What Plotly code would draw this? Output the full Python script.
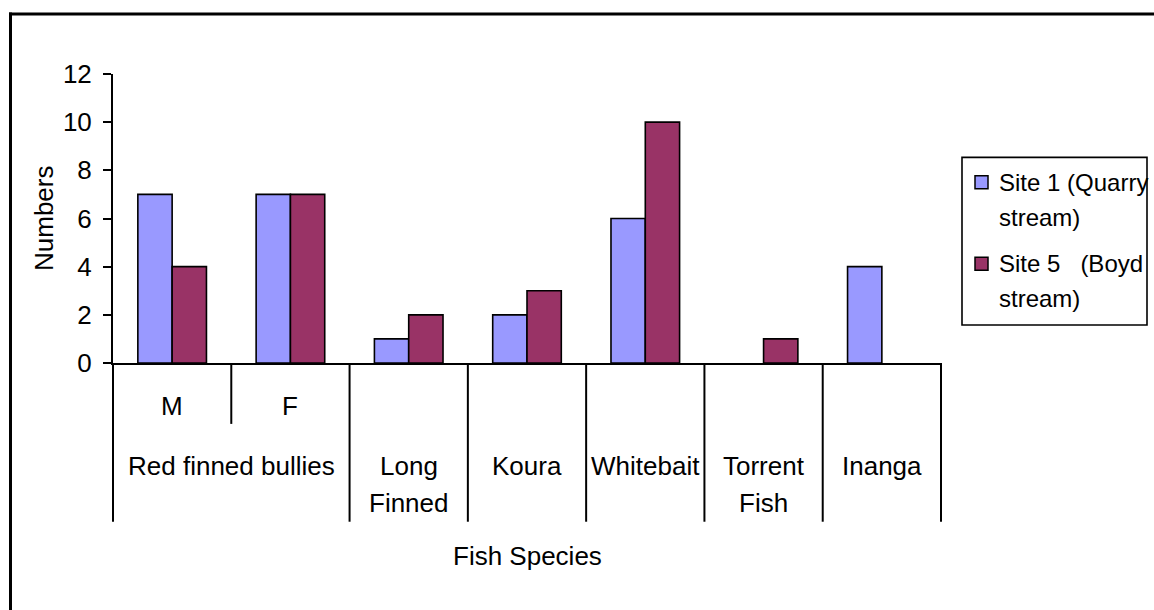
import plotly.graph_objects as go

# ---- data -------------------------------------------------------------
categories = ["M", "F", "Long Finned", "Koura", "Whitebait", "Torrent Fish", "Inanga"]
site1 = [7, 7, 1, 2, 6, None, 4]
site5 = [4, 7, 2, 3, 10, 1, None]
series_names = ["Site 1 (Quarry\nstream)", "Site 5\u00a0\u00a0\u00a0(Boyd\nstream)"]
y_ticks = [0, 2, 4, 6, 8, 10, 12]

sex_labels = ["M", "F"]
species_labels = ["Red finned bullies", "Long\nFinned", "Koura", "Whitebait", "Torrent\nFish", "Inanga"]
species_span = [2, 1, 1, 1, 1, 1]

# ---- styling ----------------------------------------------------------
FONT = "Liberation Sans, Arial, sans-serif"
COLORS = ["#9999FF", "#993366"]
W, H = 1154, 610
L, R, T, B = 113, 941, 73.5, 363     # plot area in page pixels
LABEL_SIZE = 26


def px(x):
    return (x - L) / (R - L)


def py(y):
    return (B - y) / (B - T)


fig = go.Figure()
for name, vals, col in zip(series_names, [site1, site5], COLORS):
    fig.add_trace(go.Bar(
        x=categories, y=vals, name=name.replace("\n", " "),
        marker=dict(color=col, line=dict(color="black", width=1.6)),
        showlegend=False,
    ))

shapes = []
annotations = []


def add_lines(text, x, y_first, size, spacing, xanchor="center"):
    for i, line in enumerate(text.split("\n")):
        annotations.append(dict(
            x=x, y=py(y_first + i * spacing), xref="paper", yref="paper",
            text=line, showarrow=False, xanchor=xanchor, yanchor="middle",
            font=dict(family=FONT, size=size, color="black"),
        ))


n = len(categories)
# group dividers below the category axis
edges = [0]
for s in species_span:
    edges.append(edges[-1] + s)
for k in edges:
    shapes.append(dict(type="line", xref="paper", yref="paper",
                       x0=k / n, x1=k / n, y0=0, y1=py(522),
                       line=dict(color="black", width=2)))
# divider between the M and F sub-categories
shapes.append(dict(type="line", xref="paper", yref="paper",
                   x0=1 / n, x1=1 / n, y0=0, y1=py(424),
                   line=dict(color="black", width=2)))

# sub-category labels
for i, lab in enumerate(sex_labels):
    add_lines(lab, (i + 0.5) / n, 406.5, LABEL_SIZE, 37)
# species labels
for lab, a, b in zip(species_labels, edges[:-1], edges[1:]):
    add_lines(lab, (a + b) / 2 / n, 466, LABEL_SIZE, 37)

# axis titles
add_lines("Fish Species", 0.5, 556, LABEL_SIZE, 37)
annotations.append(dict(
    x=px(43.5), y=0.5, xref="paper", yref="paper", text="Numbers",
    showarrow=False, textangle=-90, xanchor="center", yanchor="middle",
    font=dict(family=FONT, size=LABEL_SIZE, color="black"),
))

# legend box
shapes.append(dict(type="rect", xref="paper", yref="paper",
                   x0=px(962), x1=px(1147), y0=py(325), y1=py(157),
                   line=dict(color="black", width=1.6), fillcolor="white"))
for name, col, yc in zip(series_names, COLORS, [182, 263.5]):
    shapes.append(dict(type="rect", xref="paper", yref="paper",
                       x0=px(975), x1=px(988), y0=py(yc + 6.5), y1=py(yc - 6.5),
                       line=dict(color="black", width=1.5), fillcolor=col))
    add_lines(name, px(997), yc, 24, 35, xanchor="left")

# outer frame
shapes.append(dict(type="line", xref="paper", yref="paper",
                   x0=px(9), x1=px(1160), y0=py(13.5), y1=py(13.5),
                   line=dict(color="black", width=3)))
shapes.append(dict(type="line", xref="paper", yref="paper",
                   x0=px(10.5), x1=px(10.5), y0=py(12), y1=py(615),
                   line=dict(color="black", width=3)))

fig.update_layout(
    width=W, height=H,
    margin=dict(l=L, r=W - R, t=T, b=H - B, pad=0, autoexpand=False),
    paper_bgcolor="white", plot_bgcolor="white",
    barmode="group", bargap=0.42, bargroupgap=0,
    font=dict(family=FONT, size=LABEL_SIZE, color="black"),
    shapes=shapes, annotations=annotations,
    xaxis=dict(type="category", categoryorder="array", categoryarray=categories,
               range=[-0.5, n - 0.5], showticklabels=False, ticks="",
               showline=True, linecolor="black", linewidth=2,
               showgrid=False, zeroline=False, fixedrange=True),
    yaxis=dict(range=[0, 12], tickvals=y_ticks, ticks="outside", ticklen=8,
               tickwidth=2, tickcolor="black", showline=True, linecolor="black",
               linewidth=2, showgrid=False, zeroline=False,
               tickfont=dict(family=FONT, size=LABEL_SIZE, color="black"),
               ticklabelstandoff=6, fixedrange=True),
)

fig.write_html("out.html")
